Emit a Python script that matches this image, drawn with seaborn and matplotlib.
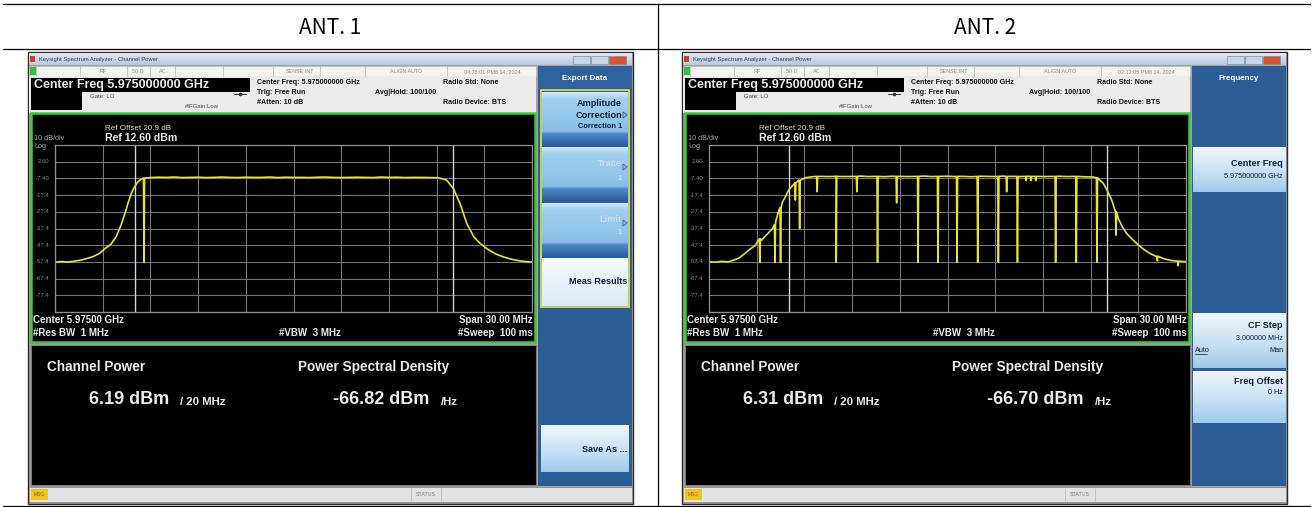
import numpy as np
import pandas as pd
import matplotlib
matplotlib.use("Agg")
import matplotlib.pyplot as plt
from matplotlib.patches import Rectangle, Polygon
from matplotlib.colors import LinearSegmentedColormap
import seaborn as sns

sns.set_theme(style="dark")
plt.rcParams["font.family"] = ["Liberation Sans", "DejaVu Sans"]

# ---------------- measurement data ----------------
antennas = ["ANT. 1", "ANT. 2"]
timestamps = ["04:28:01 PM8 14, 2024", "02:12:05 PM8 14, 2024"]
channel_power_dbm = [6.19, 6.31]
psd_dbm_hz = [-66.82, -66.70]
center_freq_ghz = 5.975
span_mhz = 30.0
ref_level_dbm = 12.60
ref_offset_db = 20.9
db_per_div = 10
integ_bw_mhz = 20.0
grid_labels = ["2.60", "-7.40", "-17.4", "-27.4", "-37.4", "-47.4", "-57.4", "-67.4", "-77.4"]

# ANT. 1 trace (offset from centre in MHz, level in dBm)
ant1_freq = [-15.0, -14.6, -14.2, -13.8, -13.4, -13.0, -12.6, -12.2,
             -11.85, -11.5, -11.16, -10.85, -10.6, -10.4, -10.2, -10.0, -9.8, -9.6, -9.36,
             -9.0, -8.5, -8.0, -7.5, -7.0, -6.5, -6.0, -5.5, -5.0, -4.5, -4.0, -3.5,
             -3.0, -2.5, -2.0, -1.5, -1.0, -0.5, 0.0, 0.5, 1.0, 1.5, 2.0, 2.5,
             3.0, 3.5, 4.0, 4.5, 5.0, 5.5, 6.0, 6.5, 7.0, 7.5, 8.0, 8.5,
             9.1, 9.63, 10.05, 10.47, 10.9, 11.34, 11.7, 12.15, 12.7, 13.2, 13.7, 14.25, 14.6, 15.0]
ant1_level = [-57.6, -57.2, -57.5, -57.0, -56.4, -55.4, -54.2, -52.3,
              -49.4, -47.0, -42.4, -35.5, -28.4, -22.0, -16.4, -12.6, -9.6, -8.0, -7.2,
              -6.9, -6.7, -6.8, -6.6, -6.9, -6.8, -6.7, -6.9, -6.8, -6.6, -6.8, -6.9,
              -6.7, -6.8, -6.8, -6.6, -6.9, -6.7, -6.8, -6.8, -6.9, -6.7, -6.6, -6.8,
              -6.9, -6.8, -6.7, -6.8, -6.9, -6.6, -6.8, -6.7, -6.9, -6.8, -6.8, -6.9,
              -7.0, -8.4, -13.4, -22.4, -34.4, -42.4, -46.0, -49.4, -52.6, -54.4, -55.8, -56.8, -57.2, -57.5]
ant1_notch_freq = [-9.40]
ant1_notch_top = [-7.2]
ant1_notch_floor = [-57.8]

# ANT. 2 trace
ant2_freq = [-15.0, -14.6, -14.2, -13.8, -13.4, -13.1, -12.8, -12.5, -12.1, -11.7,
             -11.3, -11.0, -10.8, -10.6, -10.4, -10.2, -10.0, -9.8, -9.6, -9.36, -8.96,
             -8.5, -8.0, -7.5, -7.0, -6.5, -6.0, -5.5, -5.0, -4.5, -4.0, -3.5, -3.0,
             -2.5, -2.0, -1.5, -1.0, -0.5, 0.0, 0.5, 1.0, 1.5, 2.0, 2.5, 3.0,
             3.5, 4.0, 4.5, 5.0, 5.5, 6.0, 6.5, 7.0, 7.5, 8.0, 8.5,
             9.17, 9.5, 9.8, 10.05, 10.33, 10.74, 11.0, 11.27, 11.6, 11.9, 12.3, 12.74,
             13.1, 13.57, 14.0, 14.5, 15.0]
ant2_level = [-57.3, -57.6, -57.1, -57.4, -56.2, -55.0, -52.8, -50.4, -47.6, -44.4,
              -40.4, -37.4, -33.0, -26.4, -22.0, -18.4, -14.6, -12.4, -10.0, -8.4, -7.0,
              -6.4, -6.2, -6.3, -6.1, -6.3, -6.2, -6.0, -6.3, -6.2, -6.4, -6.1, -6.2,
              -6.3, -6.2, -6.0, -6.3, -6.2, -6.1, -6.3, -6.2, -6.4, -6.1, -6.2, -6.3,
              -6.0, -6.2, -6.3, -6.1, -6.2, -6.3, -6.2, -6.1, -6.3, -6.2, -6.4,
              -6.6, -7.8, -10.4, -14.6, -20.4, -31.4, -36.5, -40.4, -43.6, -46.4, -49.6, -52.4,
              -54.0, -55.4, -56.4, -57.0, -57.3]
ant2_notch_freq = [-11.8, -10.85, -10.5, -9.57, -9.3,
                   -8.2, -7.0, -5.7, -4.4, -3.2,
                   -1.85, -0.6, 0.6, 1.9, 3.2,
                   3.72, 4.4, 4.95, 5.25, 5.55,
                   6.8, 8.1, 9.4, 10.6, 13.2, 14.5]
ant2_notch_top = [-43.6, -35.0, -25.0, -10.2, -8.6,
                  -6.2, -6.2, -6.2, -6.2, -6.2,
                  -6.2, -6.2, -6.2, -6.2, -6.2,
                  -6.2, -6.2, -6.2, -6.2, -6.2,
                  -6.2, -6.2, -7.0, -27.5, -54.0, -57.0]
ant2_notch_floor = [-57.8, -57.6, -57.8, -20.4, -37.4,
                    -15.4, -57.6, -15.4, -57.6, -22.0,
                    -57.6, -57.6, -57.6, -57.6, -57.6,
                    -15.4, -57.6, -8.8, -8.6, -8.8,
                    -57.6, -57.6, -57.6, -41.4, -56.8, -59.6]

# ---------------- canvas ----------------
W, H = 1313, 507
fig = plt.figure(figsize=(W / 100, H / 100), dpi=100)
fig.patch.set_facecolor("white")
ov = fig.add_axes([0, 0, 1, 1])
ov.set_zorder(0)
ov.axis("off")


def box(x, y, w, h, fc, ec="none", lw=0.0, z=2):
    ov.add_patch(Rectangle((x, y), w, h, facecolor=fc, edgecolor=ec, linewidth=lw, zorder=z))


def gbox(x, y, w, h, stops, z=2):
    cmap = LinearSegmentedColormap.from_list("g", stops)
    ov.imshow(np.linspace(0, 1, 120)[:, None], extent=(x, x + w, y + h, y), cmap=cmap,
              aspect="auto", interpolation="bilinear", zorder=z)


def txt(x, y, s, size, color="black", weight="normal", ha="left", va="center", z=6, **kw):
    ov.text(x, y, s, fontsize=size, color=color, fontweight=weight, ha=ha, va=va, zorder=z, **kw)


def arrow(x, y, color="#3a5f8c"):
    ov.add_patch(Polygon([[x, y - 3], [x + 4, y], [x, y + 3]], closed=True, facecolor="none",
                         edgecolor=color, linewidth=0.7, zorder=6))


def build_trace(freq, level, nf, ntop, nfloor, half=0.035):
    f = list(freq)
    lv = list(level)
    for a, t, b in zip(nf, ntop, nfloor):
        f += [a - half, a, a + half]
        lv += [t, b, t]
    df = pd.DataFrame({"MHz": f, "dBm": lv}).sort_values("MHz", kind="stable")
    return df


BTN_STOPS = [(0.0, "#d3e8f7"), (0.12, "#a3cfee"), (0.74, "#88bfe7"), (0.80, "#4a86c2"), (1.0, "#2c64a3")]
BTN_LIGHT = [(0.0, "#eef6fc"), (0.55, "#c7e1f4"), (1.0, "#9fcbeb")]
PANEL = "#2d5d95"
FG = "#ececec"


def screen(i, x0, df, panel):
    y0 = 52
    # window frame
    box(x0, y0, 605, 452, "#a3a3a3", ec="#2a2a2a", lw=1.0, z=1)
    # title bar
    gbox(x0 + 1, y0 + 1, 603, 12, ["#e2e9f2", "#b8c8dc"], z=2)
    box(x0 + 2, y0 + 4, 5, 6, "#c8412f", z=3)
    txt(x0 + 11, y0 + 7, "Keysight Spectrum Analyzer - Channel Power", 4.2, "#2a3a58")
    for bx, c in [(545, "#c9d6e6"), (563, "#c9d6e6"), (581, "#d9552c")]:
        box(x0 + bx, y0 + 4, 17, 8, c, ec="#7d8ea6", lw=0.5, z=3)
    # status row
    box(x0 + 1, y0 + 14, 507, 10, "#f2f2f2", ec="#b8b8b8", lw=0.5, z=2)
    for s in [8, 52, 99, 122, 147, 195, 245, 292, 337, 419]:
        ov.plot([x0 + s, x0 + s], [y0 + 14, y0 + 24], color="#c0c0c0", lw=0.6, zorder=3)
    box(x0 + 1.5, y0 + 15, 6, 8, "#34c234", z=3)
    for sx, s in [(75, "RF"), (110, "50 \u03a9"), (135, "AC"), (272, "SENSE:INT"),
                  (378, "ALIGN AUTO"), (464, timestamps[i])]:
        txt(x0 + sx, y0 + 19.5, s, 3.9, "#8c8c8c", ha="center")
    # info area
    box(x0 + 1, y0 + 24, 507, 37, "#ebebeb", z=2)
    box(x0 + 3, y0 + 26, 219, 14, "black", z=3)
    txt(x0 + 6, y0 + 33, f"Center Freq {center_freq_ghz:.9f} GHz", 9, FG, "bold")
    box(x0 + 3, y0 + 40, 51, 18, "black", z=3)
    txt(x0 + 62, y0 + 44, "Gate: LO", 4.3, "#4a4a4a")
    txt(x0 + 157, y0 + 54, "#IFGain:Low", 4.3, "#4a4a4a")
    ov.plot([x0 + 206, x0 + 218], [y0 + 42, y0 + 42], color="#333333", lw=0.7, zorder=4)
    ov.plot([x0 + 212], [y0 + 42], marker="o", ms=1.6, color="#333333", zorder=4)
    txt(x0 + 229, y0 + 31, f"Center Freq: {center_freq_ghz:.9f} GHz", 5.1, "#151515", "bold")
    txt(x0 + 229, y0 + 40.5, "Trig: Free Run", 5.1, "#151515", "bold")
    txt(x0 + 229, y0 + 50, "#Atten: 10 dB", 5.1, "#151515", "bold")
    txt(x0 + 347, y0 + 41, "Avg|Hold: 100/100", 5.1, "#151515", "bold")
    txt(x0 + 415, y0 + 31, "Radio Std: None", 5.1, "#151515", "bold")
    txt(x0 + 415, y0 + 50, "Radio Device: BTS", 5.1, "#151515", "bold")

    # trace display
    box(x0 + 3, y0 + 61, 504, 229, "black", ec="#38cc38", lw=1.8, z=2)
    txt(x0 + 77, y0 + 76, f"Ref Offset {ref_offset_db} dB", 5.8, "#dedede")
    txt(x0 + 77, y0 + 86, f"Ref {ref_level_dbm:.2f} dBm", 7.6, FG, "bold")
    txt(x0 + 6, y0 + 86, f"{db_per_div} dB/div", 5.2, "#a8a8a8")
    txt(x0 + 6, y0 + 95, "Log", 5.2, "#a8a8a8")
    txt(x0 + 5, y0 + 268, "Center 5.97500 GHz", 7, FG, "bold")
    txt(x0 + 5, y0 + 281, "#Res BW  1 MHz", 7, FG, "bold")
    txt(x0 + 282, y0 + 281, "#VBW  3 MHz", 7, FG, "bold", ha="center")
    txt(x0 + 505, y0 + 268, f"Span {span_mhz:.2f} MHz", 7, FG, "bold", ha="right")
    txt(x0 + 505, y0 + 281, "#Sweep  100 ms", 7, FG, "bold", ha="right")

    gl, gt, gw, gh = x0 + 27, y0 + 93, 477, 167
    ax = fig.add_axes([gl / W, 1 - (gt + gh) / H, gw / W, gh / H])
    ax.set_zorder(2)
    ax.set_facecolor("black")
    bottom = ref_level_dbm - 10 * db_per_div
    ax.set_xlim(-span_mhz / 2, span_mhz / 2)
    ax.set_ylim(bottom, ref_level_dbm)
    ax.set_xticks(np.linspace(-span_mhz / 2, span_mhz / 2, 11))
    ax.set_yticks(np.linspace(bottom, ref_level_dbm, 11))
    ax.grid(True, color="#767676", lw=0.8)
    ax.tick_params(length=0, labelbottom=False, labelleft=False)
    for sp in ax.spines.values():
        sp.set_color("#909090")
        sp.set_linewidth(0.9)
    for e in (-integ_bw_mhz / 2, integ_bw_mhz / 2):
        ax.axvline(e, color="#d4d4d4", lw=1.0)
    sns.lineplot(data=df, x="MHz", y="dBm", ax=ax, color="#e5e23a", lw=1.2,
                 estimator=None, sort=False, legend=False)
    ax.set_xlabel("")
    ax.set_ylabel("")
    for k, lab in enumerate(grid_labels):
        ax.text(-span_mhz / 2 - 0.35, ref_level_dbm - (k + 1) * db_per_div, lab, ha="right",
                va="center", fontsize=4.3, color="#8a8a8a", clip_on=False)

    # results window
    box(x0 + 3, y0 + 293, 505, 140, "black", ec="#7a7a7a", lw=0.8, z=2)
    txt(x0 + 19, y0 + 315, "Channel Power", 9.8, FG, "bold")
    txt(x0 + 270, y0 + 315, "Power Spectral Density", 9.8, FG, "bold")
    txt(x0 + 61, y0 + 348, f"{channel_power_dbm[i]:.2f} dBm", 13, FG, "bold")
    txt(x0 + 152, y0 + 350, f"/ {integ_bw_mhz:.0f} MHz", 8.2, FG, "bold")
    txt(x0 + 305, y0 + 348, f"{psd_dbm_hz[i]:.2f} dBm", 13, FG, "bold")
    txt(x0 + 413, y0 + 350, "/Hz", 8.2, FG, "bold")

    # bottom status bar
    box(x0 + 1, y0 + 435, 603, 15, "#e2e2e2", ec="#8a8a8a", lw=0.6, z=2)
    box(x0 + 3, y0 + 437, 17, 11, "#f2c21e", z=3)
    txt(x0 + 11.5, y0 + 442.5, "MSG", 3.5, "#8a6a00", ha="center")
    for s in (383, 413):
        ov.plot([x0 + s, x0 + s], [y0 + 436, y0 + 449], color="#bdbdbd", lw=0.6, zorder=3)
    txt(x0 + 398, y0 + 442.5, "STATUS", 3.8, "#7a7a7a", ha="center")

    # soft-key panel
    px = x0 + 510
    box(px, y0 + 14, 94, 420, PANEL, z=2)
    if panel == "export":
        box(px, y0 + 14, 94, 22, "#2f619c", z=3)
        txt(px + 47, y0 + 26, "Export Data", 5.8, "white", "bold", ha="center")
        keys = [(40, 53), (95, 53), (151, 53)]
        for ky, kh in keys:
            gbox(px + 4, y0 + ky, 86, kh, BTN_STOPS, z=3)
        gbox(px + 4, y0 + 206, 86, 48, [(0, "#f4f9fd"), (1, "#d9e9f6")], z=3)
        box(px + 3, y0 + 38, 88, 217, "none", ec="#e4e44a", lw=1.2, z=4)
        txt(px + 84, y0 + 51, "Amplitude", 6.6, "#10203a", "bold", ha="right")
        txt(px + 84, y0 + 63, "Correction", 6.6, "#10203a", "bold", ha="right")
        txt(px + 84, y0 + 74, "Correction 1", 5.4, "#10203a", "bold", ha="right")
        arrow(px + 85, y0 + 63)
        txt(px + 84, y0 + 111, "Trace", 6.6, "#c6def1", "bold", ha="right")
        txt(px + 84, y0 + 126, "1", 5.4, "#c6def1", "bold", ha="right")
        arrow(px + 85, y0 + 115, "#4a76a8")
        txt(px + 84, y0 + 167, "Limit", 6.6, "#c6def1", "bold", ha="right")
        txt(px + 84, y0 + 181, "1", 5.4, "#c6def1", "bold", ha="right")
        arrow(px + 85, y0 + 171, "#4a76a8")
        txt(px + 89, y0 + 230, "Meas Results", 6.6, "#10203a", "bold", ha="right")
        gbox(px + 3, y0 + 373, 88, 47, BTN_LIGHT, z=3)
        txt(px + 89, y0 + 397, "Save As ...", 6.6, "#10203a", "bold", ha="right")
    else:
        txt(px + 47, y0 + 26, "Frequency", 5.8, "white", "bold", ha="center")
        gbox(px + 1, y0 + 95, 93, 45, BTN_LIGHT, z=3)
        txt(px + 91, y0 + 111, "Center Freq", 6.6, "#10203a", "bold", ha="right")
        txt(px + 91, y0 + 125, f"{center_freq_ghz:.9f} GHz", 5.2, "#10203a", ha="right")
        gbox(px + 1, y0 + 261, 93, 55, BTN_LIGHT, z=3)
        txt(px + 91, y0 + 274, "CF Step", 6.6, "#10203a", "bold", ha="right")
        txt(px + 91, y0 + 286, "3.000000 MHz", 5.2, "#10203a", ha="right")
        txt(px + 3, y0 + 298, "Auto", 5.2, "#10203a", ha="left")
        ov.plot([px + 3, px + 15], [y0 + 302, y0 + 302], color="#10203a", lw=0.5, zorder=6)
        txt(px + 91, y0 + 298, "Man", 5.2, "#10203a", ha="right")
        gbox(px + 1, y0 + 319, 93, 52, BTN_LIGHT, z=3)
        txt(px + 91, y0 + 330, "Freq Offset", 6.6, "#10203a", "bold", ha="right")
        txt(px + 91, y0 + 341, "0 Hz", 5.2, "#10203a", ha="right")


trace1 = build_trace(ant1_freq, ant1_level, ant1_notch_freq, ant1_notch_top, ant1_notch_floor)
trace2 = build_trace(ant2_freq, ant2_level, ant2_notch_freq, ant2_notch_top, ant2_notch_floor)

screen(0, 28, trace1, "export")
screen(1, 682, trace2, "freq")

# table frame and header
for yy in (3.5, 48.5, 505.5):
    ov.plot([3, 1310], [yy, yy], color="black", lw=0.9, zorder=7)
ov.plot([657.5, 657.5], [3.5, 507], color="black", lw=0.9, zorder=7)
for cx, lab in zip((330, 985), antennas):
    ov.text(cx, 28, lab, fontsize=15, ha="center", va="center", color="black",
            family=["Noto Sans CJK SC", "DejaVu Sans"], zorder=7)

ov.set_xlim(0, W)
ov.set_ylim(H, 0)
fig.savefig("out.png", dpi=100, facecolor="white")
